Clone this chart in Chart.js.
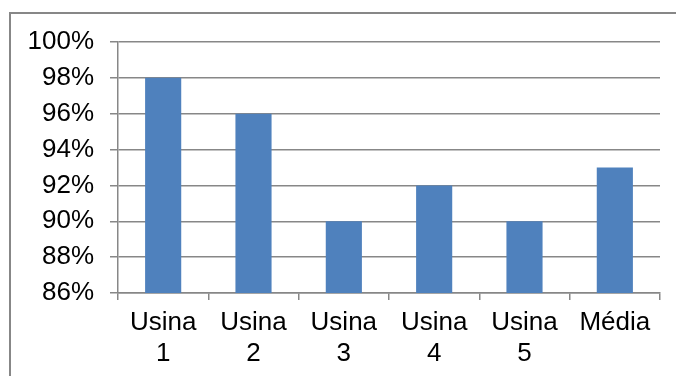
<!DOCTYPE html>
<html>
<head>
<meta charset="utf-8">
<script src="https://cdn.jsdelivr.net/npm/chart.js@4"></script>
<style>
  html, body { margin: 0; padding: 0; background: #fff; }
  #wrap { position: relative; width: 676px; height: 376px; overflow: hidden; }
  #frame { position: absolute; left: 9px; top: 12px; width: 700px; height: 400px;
           border-left: 2px solid #878787; border-top: 2px solid #878787; box-sizing: border-box; }
  canvas { position: absolute; left: 0; top: 0; }
</style>
</head>
<body>
<div id="wrap">
  <div id="frame"></div>
  <canvas id="c" width="676" height="376"></canvas>
</div>
<script>
const categories = [["Usina", "1"], ["Usina", "2"], ["Usina", "3"], ["Usina", "4"], ["Usina", "5"], ["Média"]];
const values = [98, 96, 90, 92, 90, 93];
const yMin = 86, yMax = 100, yStep = 2;

new Chart(document.getElementById('c'), {
  type: 'bar',
  data: {
    labels: categories,
    datasets: [{
      data: values,
      backgroundColor: '#4F81BD',
      borderWidth: 0,
      barPercentage: 0.4,
      categoryPercentage: 1.0
    }]
  },
  options: {
    responsive: false,
    animation: false,
    layout: { padding: { left: 0, top: 42, right: 16, bottom: 0 } },
    plugins: { legend: { display: false }, tooltip: { enabled: false } },
    scales: {
      x: {
        grid: { drawOnChartArea: false, drawTicks: true, tickLength: 7, color: '#878787', lineWidth: 1.5, offset: true },
        border: { color: '#878787', width: 1.5 },
        ticks: { color: '#000', font: { family: 'Liberation Sans', size: 26, lineHeight: 1.2 }, padding: 7, maxRotation: 0, autoSkip: false },
        afterFit: s => { s.height = 376 - 293; }
      },
      y: {
        min: yMin, max: yMax,
        grid: { color: '#878787', lineWidth: 1.5, tickLength: 8 },
        border: { color: '#878787', width: 1.5 },
        ticks: { stepSize: yStep, color: '#000', font: { family: 'Liberation Sans', size: 26 }, padding: 16,
                 callback: v => v + '%' },
        afterFit: s => { s.width = 118; }
      }
    }
  }
});
</script>
</body>
</html>
